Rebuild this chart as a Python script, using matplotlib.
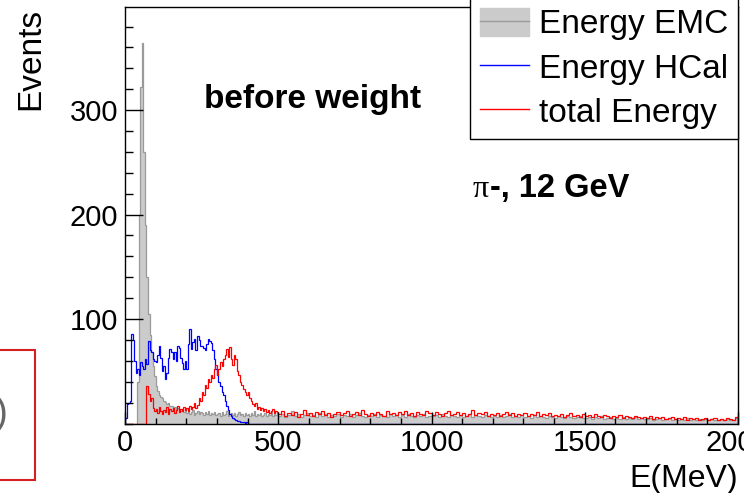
import numpy as np
import matplotlib
matplotlib.use("Agg")
import matplotlib.pyplot as plt
from matplotlib.ticker import MultipleLocator
from matplotlib.patches import Patch, Rectangle
from matplotlib.lines import Line2D

plt.rcParams['font.family'] = ['Liberation Sans', 'DejaVu Sans']

# bin edges: 5 MeV bins up to 500 MeV, 10 MeV bins from 500 to 2000 MeV
fine_step = 5
coarse_step = 10

# Energy EMC, 0-500 MeV (5 MeV bins)
emc_low = [0, 0, 0, 0, 0, 0, 0, 0, 40, 200,
           322, 364, 260, 190, 140, 105, 85, 68, 55, 45,
           36, 31, 27, 25, 24, 22, 21, 19, 20, 17,
           17, 15, 16, 14, 15, 13, 12, 14, 11, 13,
           10, 12, 9, 11, 13, 8, 10, 12, 9, 11,
           10, 8, 11, 9, 12, 8, 10, 9, 11, 8,
           9, 10, 7, 11, 8, 9, 12, 7, 9, 10,
           8, 10, 7, 9, 11, 8, 9, 7, 10, 8,
           9, 7, 10, 8, 12, 7, 9, 8, 10, 7,
           8, 10, 7, 9, 8, 11, 7, 9, 8, 10]
# Energy EMC, 500-2000 MeV (10 MeV bins)
emc_high = [7, 9, 6, 8, 12, 7, 9, 6, 8, 10,
            7, 8, 6, 10, 7, 9, 6, 8, 7, 9,
            6, 8, 7, 9, 6, 8, 10, 7, 6, 8,
            7, 9, 6, 8, 7, 6, 9, 7, 8, 6,
            8, 6, 9, 7, 6, 8, 7, 9, 6, 7,
            7, 8, 6, 9, 7, 6, 8, 7, 6, 8,
            6, 7, 9, 6, 8, 7, 6, 8, 7, 6,
            7, 6, 8, 6, 7, 9, 6, 7, 6, 8,
            6, 7, 5, 8, 6, 7, 6, 5, 7, 6,
            5, 7, 6, 5, 7, 6, 5, 6, 7, 5,
            5, 6, 4, 6, 5, 7, 4, 5, 6, 4,
            5, 4, 6, 4, 5, 4, 6, 4, 5, 4,
            4, 5, 3, 4, 5, 3, 4, 5, 3, 4,
            3, 4, 3, 5, 3, 4, 3, 4, 3, 4,
            3, 4, 3, 3, 4, 3, 4, 3, 3, 5]

# Energy HCal
hcal_low = [5, 19, 20, 22, 86, 80, 60, 48, 52, 46,
            59, 55, 52, 62, 57, 79, 70, 68, 62, 60,
            59, 66, 74, 63, 50, 55, 43, 48, 63, 71,
            68, 62, 68, 60, 74, 72, 63, 58, 52, 60,
            52, 76, 90, 71, 78, 81, 70, 84, 80, 74,
            74, 72, 70, 76, 81, 79, 77, 70, 62, 52,
            46, 40, 36, 30, 27, 22, 17, 13, 9, 7,
            5, 4, 3, 2, 2, 1, 1, 1, 0, 1,
            0, 0, 0, 0, 0, 0, 0, 0, 0, 0,
            0, 0, 0, 0, 0, 0, 0, 0, 0, 0]
hcal_high = [0] * 150

# total Energy
total_low = [0, 0, 0, 0, 0, 0, 0, 0, 0, 0,
             0, 0, 0, 0, 36, 28, 22, 24, 15, 12,
             14, 10, 16, 12, 9, 13, 11, 16, 9, 14,
             12, 15, 10, 13, 17, 11, 14, 12, 16, 13,
             15, 12, 17, 14, 16, 20, 15, 18, 24, 22,
             30, 27, 37, 34, 43, 40, 46, 44, 52, 56,
             46, 52, 59, 55, 62, 66, 71, 64, 73, 62,
             56, 66, 62, 50, 46, 40, 37, 33, 30, 27,
             30, 24, 22, 19, 17, 20, 14, 16, 13, 15,
             12, 14, 11, 13, 10, 12, 14, 10, 12, 11]
total_high = [9, 12, 7, 10, 8, 11, 6, 9, 13, 8,
              10, 7, 11, 9, 12, 8, 10, 6, 9, 11,
              8, 10, 12, 7, 9, 11, 8, 13, 9, 7,
              10, 8, 11, 9, 7, 12, 9, 10, 8, 11,
              9, 12, 8, 10, 7, 11, 9, 8, 12, 10,
              8, 11, 9, 7, 10, 12, 8, 9, 11, 8,
              10, 7, 9, 13, 8, 10, 9, 11, 7, 9,
              8, 10, 7, 9, 11, 8, 10, 7, 9, 8,
              10, 7, 9, 8, 11, 7, 9, 8, 10, 7,
              8, 7, 9, 6, 8, 10, 7, 8, 6, 9,
              7, 8, 6, 9, 7, 6, 8, 7, 5, 7,
              6, 8, 5, 7, 6, 5, 7, 6, 5, 6,
              5, 7, 4, 6, 5, 6, 4, 5, 6, 4,
              5, 4, 6, 3, 5, 4, 5, 3, 4, 5,
              3, 4, 5, 3, 4, 3, 5, 4, 3, 6]

x_ticks = [0, 500, 1000, 1500, 2000]
y_ticks = [100, 200, 300]

edges = np.concatenate([np.arange(0, 500, fine_step),
                        np.arange(500, 2000 + coarse_step, coarse_step)])
emc = np.array(emc_low + emc_high)
hcal = np.array(hcal_low + hcal_high)
total = np.array(total_low + total_high)

W, H = 744, 493
fig = plt.figure(figsize=(W / 100, H / 100), dpi=100)
ax = fig.add_axes([125 / W, 1 - 423.5 / H, (738 - 125) / W, (423.5 - 6.7) / H])

emc_fill = '#cbcbcb'
emc_line = '#9a9a9a'
ax.stairs(emc, edges, fill=True, color=emc_fill)
ax.stairs(emc, edges, color=emc_line, lw=0.9)
ax.stairs(hcal, edges, color='#0000ff', lw=0.9)
ax.stairs(total, edges, color='#ff0000', lw=0.9)

ax.set_xlim(0, 2000)
ax.set_ylim(0, 399)
ax.set_xticks(x_ticks)
ax.set_yticks(y_ticks)
ax.xaxis.set_minor_locator(MultipleLocator(100))
ax.yaxis.set_minor_locator(MultipleLocator(20))
ax.tick_params(axis='both', which='both', direction='in', top=False, right=False,
               labelsize=21, color='black')
ax.tick_params(axis='x', which='major', length=8.5, width=1, pad=4)
ax.tick_params(axis='x', which='minor', length=4.3, width=1)
ax.tick_params(axis='y', which='major', length=13, width=1, pad=5)
ax.tick_params(axis='y', which='minor', length=6, width=1)
for s in ax.spines.values():
    s.set_linewidth(1)

fig.text(31 / W, 1 - 8 / H, 'Events', rotation=90, ha='center', va='top', fontsize=24)
fig.text(738 / W, 1 - 487 / H, 'E(MeV)', ha='right', va='baseline', fontsize=23)

fig.text(204 / W, 1 - 108 / H, 'before weight', fontsize=24, fontweight='bold', va='baseline')
fig.text(473 / W, 1 - 197 / H, 'π', fontsize=23, family='Liberation Serif', va='baseline')
fig.text(490 / W, 1 - 197 / H, '-, 12 GeV', fontsize=23.5, fontweight='bold', va='baseline')

handles = [(Patch(facecolor=emc_fill, edgecolor=emc_fill),
            Line2D([], [], color=emc_line, lw=1)),
           Line2D([], [], color='#0000ff', lw=1),
           Line2D([], [], color='#ff0000', lw=1)]
labels = ['Energy EMC', 'Energy HCal', 'total Energy']
leg = fig.legend(handles, labels, loc='upper right', bbox_to_anchor=(738 / W, 1.004),
                 bbox_transform=fig.transFigure, fontsize=24, frameon=True,
                 fancybox=False, framealpha=1, edgecolor='black', borderaxespad=0,
                 handlelength=1.45, handleheight=0.9, handletextpad=0.3,
                 labelspacing=0.36, borderpad=0.3)
leg.get_frame().set_linewidth(1)

# piece of the neighbouring panel on the left
fig.patches.append(Rectangle((-5 / W, 1 - 480 / H), 40 / W, 130 / H,
                             transform=fig.transFigure, fill=False,
                             edgecolor='#d42020', lw=1.5))
fig.text(-5 / W, 1 - 414 / H, ')', fontsize=28, color='#666666', va='center')

fig.savefig('out.png', dpi=100)
